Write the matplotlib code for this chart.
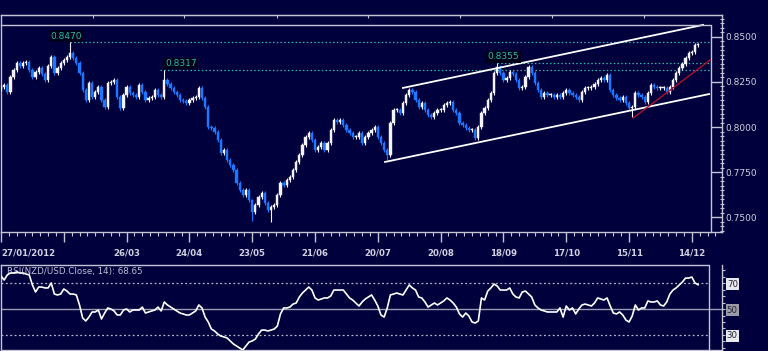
import numpy as np
import matplotlib.pyplot as plt
from matplotlib.ticker import MultipleLocator, FormatStrFormatter

BG = "#00003c"
FRAME = "#c4c4d4"
TXT = "#d0d0e0"
UP = "#f4f4ff"
DOWN = "#1e78ff"
LEVEL = "#30b8a8"

# daily closes NZD/USD, 27/01/2012 onwards
closes = [
    0.8222, 0.8233, 0.8194, 0.8278, 0.8317, 0.8356, 0.8339, 0.8356, 0.8361, 0.8317,
    0.8278, 0.8306, 0.8328, 0.8294, 0.8261, 0.8339, 0.8389, 0.8300, 0.8328, 0.8356,
    0.8372, 0.8389, 0.8411, 0.8383, 0.8356, 0.8300, 0.8206, 0.8150, 0.8244, 0.8167,
    0.8194, 0.8222, 0.8150, 0.8111, 0.8244, 0.8250, 0.8261, 0.8167, 0.8106, 0.8178,
    0.8222, 0.8189, 0.8178, 0.8167, 0.8233, 0.8194, 0.8150, 0.8161, 0.8167, 0.8206,
    0.8178, 0.8167, 0.8261, 0.8239, 0.8217, 0.8194, 0.8178, 0.8150, 0.8144, 0.8133,
    0.8150, 0.8161, 0.8167, 0.8217, 0.8161, 0.8111, 0.8000, 0.7994, 0.7972, 0.7928,
    0.7856, 0.7872, 0.7817, 0.7789, 0.7761, 0.7689, 0.7650, 0.7622, 0.7650, 0.7594,
    0.7528, 0.7567, 0.7611, 0.7633, 0.7578, 0.7539, 0.7556, 0.7567, 0.7622, 0.7689,
    0.7678, 0.7706, 0.7722, 0.7761, 0.7806, 0.7844, 0.7900, 0.7944, 0.7967, 0.7928,
    0.7872, 0.7889, 0.7911, 0.7872, 0.7911, 0.7983, 0.8039, 0.8028, 0.8039, 0.8011,
    0.7983, 0.7967, 0.7944, 0.7944, 0.7967, 0.7911, 0.7944, 0.7967, 0.7983, 0.8000,
    0.7944, 0.7911, 0.7872, 0.7844, 0.8022, 0.8094, 0.8094, 0.8078, 0.8133, 0.8178,
    0.8206, 0.8194, 0.8150, 0.8111, 0.8133, 0.8094, 0.8067, 0.8056, 0.8078, 0.8094,
    0.8094, 0.8122, 0.8133, 0.8139, 0.8094, 0.8078, 0.8022, 0.8011, 0.7994, 0.7983,
    0.7983, 0.7939, 0.8000, 0.8078, 0.8106, 0.8150, 0.8189, 0.8300, 0.8333, 0.8300,
    0.8261, 0.8272, 0.8306, 0.8294, 0.8261, 0.8217, 0.8222, 0.8278, 0.8333, 0.8300,
    0.8244, 0.8206, 0.8167, 0.8189, 0.8178, 0.8178, 0.8167, 0.8178, 0.8167, 0.8189,
    0.8206, 0.8189, 0.8178, 0.8167, 0.8150, 0.8194, 0.8217, 0.8217, 0.8222, 0.8239,
    0.8261, 0.8272, 0.8261, 0.8289, 0.8206, 0.8178, 0.8161, 0.8150, 0.8167, 0.8133,
    0.8106, 0.8111, 0.8189, 0.8178, 0.8167, 0.8139, 0.8189, 0.8233, 0.8222, 0.8217,
    0.8217, 0.8217, 0.8194, 0.8222, 0.8261, 0.8300, 0.8328, 0.8350, 0.8383, 0.8411,
    0.8417, 0.8456, 0.8456,
]
first_open = 0.8210

# notable wick extremes
high_idx = [22, 52, 158]
high_val = [0.8470, 0.8317, 0.8355]
low_idx = [80, 86, 123, 201]
low_val = [0.7478, 0.7470, 0.7815, 0.8056]

# RSI(14) values, one per bar
rsi = [
    75.4, 72.3, 76.2, 77.7, 77.7, 78.5, 77.7, 77.7, 76.9, 76.2,
    68.5, 63.1, 66.9, 66.9, 66.2, 66.2, 70.0, 61.5, 60.8, 61.5,
    65.4, 63.8, 61.5, 61.5, 60.8, 53.1, 43.1, 40.8, 43.8, 47.7,
    47.7, 49.2, 42.3, 46.9, 50.8, 50.0, 48.5, 45.4, 45.4, 49.2,
    50.0, 47.7, 49.2, 49.2, 49.2, 51.5, 46.9, 47.7, 48.5, 49.2,
    51.5, 48.5, 55.4, 53.1, 51.5, 50.0, 48.5, 46.9, 46.2, 45.4,
    45.4, 46.9, 48.5, 53.1, 50.8, 43.8, 40.0, 34.6, 33.1, 30.8,
    29.2, 28.5, 27.7, 25.4, 23.1, 21.5, 20.0, 18.5, 21.5, 24.6,
    25.4, 26.9, 30.8, 33.8, 33.8, 33.1, 33.8, 34.6, 36.9, 46.2,
    50.8, 50.8, 51.5, 53.8, 54.6, 59.2, 62.3, 64.6, 66.9, 64.6,
    58.5, 56.9, 57.7, 58.5, 58.5, 60.0, 64.6, 64.6, 64.6, 64.6,
    61.5, 58.5, 56.9, 54.6, 52.3, 55.4, 57.7, 59.2, 60.8, 56.9,
    52.3, 45.4, 43.8, 50.8, 60.8, 61.5, 62.3, 61.5, 60.8, 64.6,
    68.5, 66.2, 64.6, 59.2, 58.5, 55.4, 51.5, 53.1, 54.6, 53.1,
    54.6, 56.2, 58.5, 56.9, 54.6, 51.5, 46.2, 43.8, 46.9, 44.6,
    40.0, 39.2, 40.8, 58.5, 56.9, 63.8, 66.2, 69.2, 67.7, 64.6,
    64.6, 64.6, 66.2, 61.5, 59.2, 58.5, 63.1, 63.8, 61.5, 59.2,
    53.1, 50.8, 49.2, 48.5, 47.7, 47.7, 47.7, 47.7, 50.8, 43.8,
    52.3, 49.2, 50.8, 46.2, 50.0, 53.1, 53.8, 53.1, 52.3, 54.6,
    58.5, 57.7, 56.9, 58.5, 52.3, 46.9, 46.2, 47.7, 45.4, 41.5,
    40.0, 44.6, 53.1, 49.2, 50.8, 50.8, 56.2, 55.4, 55.4, 56.2,
    53.1, 52.3, 55.4, 61.5, 64.6, 66.2, 68.5, 70.8, 73.8, 73.8,
    74.6, 70.0, 68.65,
]

date_ticks = [0, 20, 40, 60, 80, 100, 120, 140, 160, 180, 200, 220]
date_labels = ["27/01/2012", "", "26/03", "24/04", "23/05", "21/06",
               "20/07", "20/08", "18/09", "17/10", "15/11", "14/12"]
top_ticks = [29.3, 58.3, 87.9, 116.9, 146.2, 175.5, 204.8]

level_val = [0.8470, 0.8317, 0.8355]
level_start = [22.0, 50.6, 158.0]

chan_up_x, chan_up_y = [128.0, 223.6], [0.8217, 0.8567]
chan_lo_x, chan_lo_y = [122.3, 225.5], [0.7806, 0.8183]
red_x, red_y = [201.3, 225.8], [0.8050, 0.8372]

W, H = 768, 351


def box(x0, y0, x1, y1):
    return [x0 / W, 1 - y1 / H, (x1 - x0) / W, (y1 - y0) / H]


fig = plt.figure(figsize=(7.68, 3.51), dpi=100, facecolor=BG)
plt.rcParams["font.family"] = "DejaVu Sans"

# ---------- price panel ----------
ax = fig.add_axes(box(1, 15, 722, 232), facecolor=BG)
ax.set_xlim(0, 229.6)
ax.set_ylim(0.7417, 0.8622)

c = np.array(closes)
o = np.concatenate([[first_open], c[:-1]])
idx = np.arange(len(c))
hi = np.maximum(o, c) + 0.0009
lo = np.minimum(o, c) - 0.0009
hi[high_idx] = high_val
lo[low_idx] = low_val
up = c >= o
cols = np.where(up, UP, DOWN)

ax.vlines(idx, lo, hi, colors=cols, lw=0.8, zorder=3)
ax.bar(idx, np.maximum(np.abs(c - o), 0.0005), bottom=np.minimum(o, c),
       width=0.72, color=cols, edgecolor=cols, lw=0.3, zorder=4)

inner_x = 226.1
inner_top = 0.8567
for val, start, dx in zip(level_val, level_start, [-6.3, 1.6, -3.0]):
    ax.hlines(val, start, inner_x, colors=LEVEL, lw=0.9,
              linestyles=(0, (1.2, 1.8)), zorder=2)
    ax.text(start + dx, val + 0.0010, f"{val:.4f}", color=LEVEL, fontsize=6.5,
            ha="left", va="bottom", zorder=6,
            bbox=dict(boxstyle="square,pad=0.15", fc="#000018", ec="none"))

ax.plot(chan_up_x, chan_up_y, color="white", lw=1.3, zorder=5)
ax.plot(chan_lo_x, chan_lo_y, color="white", lw=1.3, zorder=5)
ax.plot(red_x, red_y, color="#b0102a", lw=1.0, zorder=5)

# inner frame
ax.plot([0, inner_x, inner_x], [inner_top, inner_top, 0.7417], color=FRAME,
        lw=1.0, clip_on=False, zorder=6)

for s in ax.spines.values():
    s.set_color(FRAME)
    s.set_linewidth(1.0)

ax.yaxis.tick_right()
ax.set_yticks(np.arange(0.75, 0.8501, 0.025))
ax.yaxis.set_major_formatter(FormatStrFormatter("%.4f"))
ax.yaxis.set_minor_locator(MultipleLocator(0.0025))
ax.tick_params(axis="y", which="major", direction="in", length=8.2, width=1,
               color=FRAME, labelcolor=TXT, labelsize=6.5, pad=2.5)
ax.tick_params(axis="y", which="minor", direction="inout", length=3, width=0.8,
               color=FRAME)
ax.tick_params(axis="y", left=False, which="both")

ax.set_xticks(date_ticks)
ax.set_xticklabels(date_labels)
ax.xaxis.set_minor_locator(MultipleLocator(2.5))
ax.tick_params(axis="x", which="major", direction="out", length=7.5, width=1,
               color=FRAME, labelcolor=TXT, labelsize=6.2, pad=4.5)
ax.tick_params(axis="x", which="minor", direction="out", length=3, width=0.8,
               color=FRAME)
for lab in ax.get_xticklabels():
    lab.set_fontweight("bold")
ax.get_xticklabels()[0].set_ha("left")

top = ax.secondary_xaxis("top")
top.set_xticks(top_ticks)
top.tick_params(direction="in", length=2.5, width=0.8, color=FRAME,
                labeltop=False)
top.spines["top"].set_color(FRAME)

# ---------- RSI panel ----------
ax2 = fig.add_axes(box(1, 265, 722, 350), facecolor=BG)
ax2.set_xlim(0, 229.6)
ax2.set_ylim(18.46, 83.85)

ax2.plot(np.arange(len(rsi)), rsi, color="white", lw=1.2, zorder=4)

inner2 = 225.5
ax2.hlines([70, 30], 0, inner2, colors="#b8b8cc", lw=0.9,
           linestyles=(0, (1.5, 2.0)), zorder=2)
ax2.axhline(50, color="#9a9ab0", lw=1.0, zorder=2)
ax2.plot([0, inner2, inner2], [83.85, 83.85, 18.46], color=FRAME, lw=1.0,
         clip_on=False, zorder=6)

ax2.text(0.009, 0.92, "RSI(NZD/USD.Close, 14): 68.65", transform=ax2.transAxes,
         color="#c0c0d4", fontsize=6.3, ha="left", va="center", zorder=3)

for side, s in ax2.spines.items():
    s.set_color(FRAME)
    s.set_linewidth(1.0)
ax2.spines["top"].set_visible(False)

ax2.set_xticks([])
ax2.yaxis.tick_right()
ax2.set_yticks([30, 50, 70])
ax2.yaxis.set_minor_locator(MultipleLocator(5))
ax2.tick_params(axis="y", which="major", direction="out", length=2, width=0.8,
                color=FRAME, labelcolor="#202030", labelsize=6.2, pad=1.5)
ax2.tick_params(axis="y", which="minor", direction="out", length=2, width=0.8,
                color=FRAME)
ax2.tick_params(axis="y", left=False, which="both")
for lab, fc in zip(ax2.get_yticklabels(), ["#e8e8f0", "#9a9aa8", "#e8e8f0"]):
    lab.set_bbox(dict(boxstyle="square,pad=0.12", fc=fc, ec="none"))

fig.savefig("out.png", dpi=100, facecolor=BG)
